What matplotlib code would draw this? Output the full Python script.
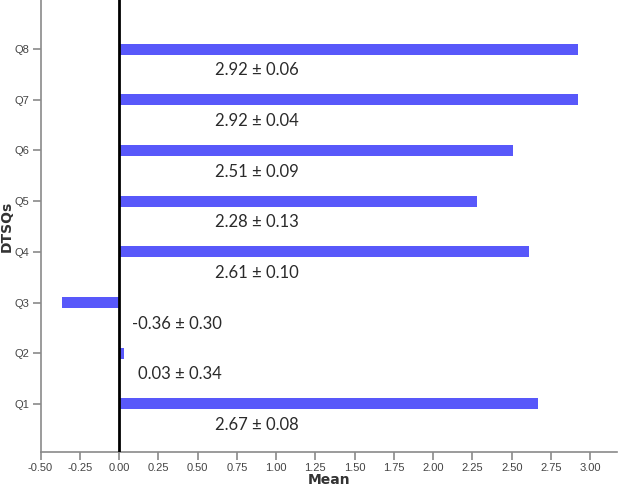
import matplotlib
matplotlib.use('Agg')
import matplotlib.pyplot as plt
import numpy as np

# DTSQ item means
items = ['Q1', 'Q2', 'Q3', 'Q4', 'Q5', 'Q6', 'Q7', 'Q8']
means = [2.67, 0.03, -0.36, 2.61, 2.28, 2.51, 2.92, 2.92]
sds = [0.08, 0.34, 0.30, 0.10, 0.13, 0.09, 0.04, 0.06]
xticks = np.arange(-0.5, 3.01, 0.25)

# where the "mean ± sd" annotation starts (x in data units)
label_x = [0.61, 0.12, 0.08, 0.61, 0.61, 0.61, 0.61, 0.61]

tick_font = ['Liberation Sans Narrow', 'Liberation Sans', 'DejaVu Sans']

fig = plt.figure(figsize=(6.2, 4.93), dpi=100)
ax = fig.add_axes([40.5 / 620, 41 / 493, (617 - 40.5) / 620, 452 / 493])

pos = np.arange(1, len(items) + 1)
ax.barh(pos, means, height=0.22, color='#5858fa', zorder=2)
ax.axvline(0, color='black', linewidth=2, zorder=3)

for y, m, s, lx in zip(pos, means, sds, label_x):
    ax.text(lx, y - 0.42, f'{m:.2f} \u00b1 {s:.2f}', fontsize=12, family='Lato',
            color='#2a2a2a', ha='left', va='center')

ax.set_xlim(-0.5, 3.17)
ax.set_ylim(0.05, 8.97)
ax.set_xticks(xticks)
ax.set_xticklabels([f'{t:.2f}' for t in xticks], family=tick_font)
ax.set_yticks(pos)
ax.set_yticklabels(items, family=tick_font)

for side in ['top', 'right']:
    ax.spines[side].set_visible(False)
for side in ['left', 'bottom']:
    ax.spines[side].set_color('#8a8a8a')
    ax.spines[side].set_linewidth(1.2)
ax.tick_params(axis='both', colors='#8a8a8a', length=6, width=1.2, labelsize=8,
               labelcolor='#444444', pad=2)

ax.set_xlabel('Mean', fontsize=10, fontweight='bold', color='#333333', labelpad=0)
fig.text(7 / 620, 1 - 226 / 493, 'DTSQs', fontsize=10, fontweight='bold',
         color='#333333', rotation=90, ha='center', va='center')

fig.savefig('out.png', dpi=100)
